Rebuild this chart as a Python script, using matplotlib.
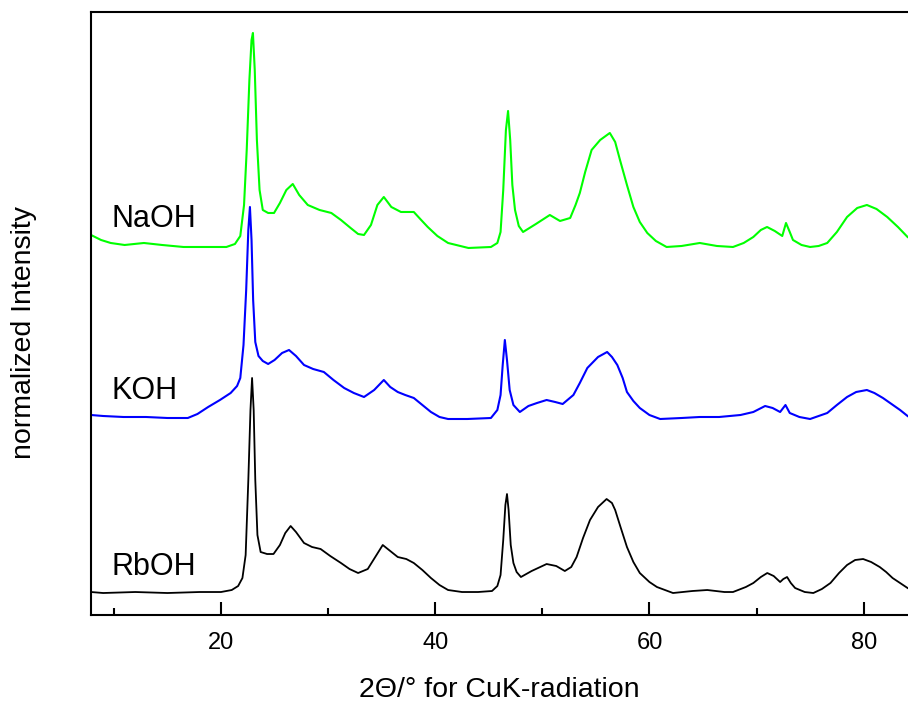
import matplotlib.pyplot as plt
from matplotlib.ticker import MultipleLocator

plt.rcParams['font.family'] = ['Liberation Sans', 'DejaVu Sans']

# 2theta positions and intensities (arbitrary units, curves already offset)
rboh_2theta = [7.86, 9.0, 12.0, 15.0, 18.0, 20.0, 21.0, 21.6, 22.0, 22.3, 22.55, 22.75, 22.9,
               23.05, 23.2, 23.4, 23.7, 24.3, 24.9, 25.5, 26.0, 26.5, 27.0, 27.75, 28.5, 29.3,
               30.2, 31.2, 32.0, 32.8, 33.7, 34.4, 35.1, 35.8, 36.5, 37.3, 38.0, 38.8, 39.6,
               40.4, 41.2, 42.5, 44.0, 45.3, 45.8, 46.1, 46.35, 46.55, 46.7, 46.85, 47.05, 47.3,
               47.6, 48.0, 49.0, 50.4, 51.3, 52.1, 52.7, 53.2, 53.8, 54.45, 55.2, 56.0, 56.5,
               56.8, 57.3, 57.9, 58.5, 59.1, 60.0, 60.7, 62.2, 64.0, 65.4, 67.0, 67.8, 69.0,
               69.7, 70.4, 71.0, 71.6, 72.2, 72.5, 72.85, 73.2, 73.6, 74.5, 75.3, 76.1, 76.9,
               77.7, 78.45, 79.2, 79.95, 80.7, 81.5, 82.1, 82.7, 83.4, 84.1]
rboh_int = [23, 22, 23, 22, 23, 23, 25, 29, 37, 60, 135, 205, 237,
            205, 135, 80, 63, 61, 61, 70, 82, 89, 83, 72, 68, 66,
            59, 52, 46, 42, 46, 58, 70, 64, 58, 56, 52, 45, 37,
            30, 25, 23, 23, 24, 29, 40, 75, 110, 121, 105, 70, 52,
            43, 38, 44, 51, 49, 44, 48, 58, 77, 95, 108, 116, 112,
            105, 88, 68, 53, 42, 33, 28, 22, 24, 25, 23, 23, 28,
            32, 38, 42, 39, 33, 36, 38, 32, 27, 23, 22, 26, 32,
            42, 50, 55, 56, 53, 48, 43, 37, 32, 27]

koh_2theta = [7.86, 9.0, 10.9, 13.0, 15.0, 16.9, 17.8, 18.8, 19.9, 20.9, 21.5, 21.8, 22.1,
              22.35, 22.55, 22.7, 22.85, 23.0, 23.2, 23.5, 23.9, 24.4, 25.0, 25.7, 26.35, 27.0,
              27.75, 28.6, 29.6, 30.5, 31.5, 32.4, 33.35, 34.3, 35.2, 35.8, 36.5, 37.2, 38.0,
              38.8, 39.6, 40.4, 41.2, 43.0, 45.2, 45.8, 46.1, 46.3, 46.5, 46.7, 46.95, 47.3,
              47.9, 48.7, 49.5, 50.4, 51.2, 51.9, 52.9, 53.5, 54.2, 55.2, 56.05, 56.5, 57.0,
              57.5, 57.9, 58.5, 59.1, 60.0, 61.0, 63.0, 64.7, 66.5, 68.5, 69.7, 70.8, 71.5,
              72.2, 72.7, 73.1, 74.0, 75.0, 76.6, 77.5, 78.45, 79.3, 80.3, 81.0, 81.8, 82.6,
              83.4, 84.1]
koh_int = [200, 199, 198, 198, 197, 197, 201, 208, 215, 222, 229, 237, 270,
           325, 385, 408, 375, 315, 273, 259, 254, 251, 255, 262, 265, 259,
           250, 246, 243, 235, 227, 222, 218, 225, 235, 228, 223, 220, 217,
           210, 203, 198, 196, 196, 197, 205, 220, 250, 275, 255, 225, 210,
           203, 209, 212, 215, 213, 211, 220, 232, 247, 258, 263, 258, 250,
           237, 223, 214, 207, 200, 196, 197, 198, 198, 200, 203, 209, 207,
           203, 210, 202, 198, 196, 202, 210, 218, 223, 225, 222, 217, 211,
           205, 199]

naoh_2theta = [7.86, 8.8, 9.7, 11.0, 12.8, 14.5, 16.5, 18.5, 20.5, 21.3, 21.8, 22.15, 22.4,
               22.65, 22.85, 22.98, 23.15, 23.35, 23.6, 23.9, 24.4, 24.95, 25.5, 26.1, 26.7,
               27.3, 28.1, 29.2, 30.3, 31.2, 32.1, 32.8, 33.35, 34.0, 34.6, 35.2, 35.9, 36.8,
               38.0, 38.6, 39.3, 40.2, 41.2, 43.1, 45.2, 45.8, 46.1, 46.35, 46.6, 46.8, 47.0,
               47.2, 47.45, 47.8, 48.2, 49.4, 50.7, 51.65, 52.6, 53.1, 53.5, 54.0, 54.6, 55.4,
               56.3, 56.8, 57.25, 57.9, 58.5, 59.1, 59.8, 60.6, 61.6, 63.0, 64.7, 66.3, 67.8,
               68.8, 69.7, 70.4, 70.98, 71.7, 72.4, 72.75, 73.1, 73.4, 74.2, 75.0, 75.8, 76.6,
               77.5, 78.45, 79.4, 80.3, 81.2, 82.2, 83.2, 84.1]
naoh_int = [380, 375, 372, 370, 372, 370, 368, 368, 368, 371, 379, 410, 465,
            535, 575, 582, 545, 475, 425, 405, 402, 402, 412, 425, 431,
            420, 410, 405, 402, 395, 387, 381, 380, 390, 410, 418, 408, 403,
            403, 396, 388, 379, 372, 367, 368, 372, 383, 425, 485, 504, 475,
            430, 405, 389, 383, 391, 400, 394, 397, 410, 422, 443, 465, 475,
            482, 473, 455, 430, 408, 393, 382, 374, 368, 369, 372, 369, 368,
            372, 378, 385, 388, 384, 379, 392, 383, 375, 370, 368, 369, 372,
            383, 398, 407, 410, 406, 398, 388, 378]

labels = ['NaOH', 'KOH', 'RbOH']
label_y = [388, 216, 40]

fig = plt.figure(figsize=(9.08, 7.04), dpi=100)
ax = fig.add_axes([0.1002, 0.1264, 0.8998, 0.8566])

ax.plot(rboh_2theta, rboh_int, color='black', lw=1.3)
ax.plot(koh_2theta, koh_int, color='#0000ff', lw=1.5)
ax.plot(naoh_2theta, naoh_int, color='#00ff00', lw=1.5)

for lab, y in zip(labels, label_y):
    ax.text(9.75, y, lab, fontsize=22, va='baseline', ha='left')

ax.set_xlim(7.86, 84.14)
ax.set_ylim(0, 603)
ax.set_yticks([])

ax.xaxis.set_major_locator(MultipleLocator(20))
ax.xaxis.set_minor_locator(MultipleLocator(10))
ax.tick_params(axis='x', which='major', direction='in', length=9.5, width=1.5,
               labelsize=17, pad=12)
ax.tick_params(axis='x', which='minor', direction='in', length=5, width=1.5)
ax.spines['right'].set_visible(False)
for s in ['left', 'bottom', 'top']:
    ax.spines[s].set_linewidth(1.5)

ax.set_xlabel('2\u0398/\u00b0 for CuK-radiation', fontsize=20.5, labelpad=17)
ax.set_ylabel('normalized Intensity', fontsize=20.5)
ax.yaxis.set_label_coords(-0.066, 0.469)

fig.savefig('out.png', dpi=100)
